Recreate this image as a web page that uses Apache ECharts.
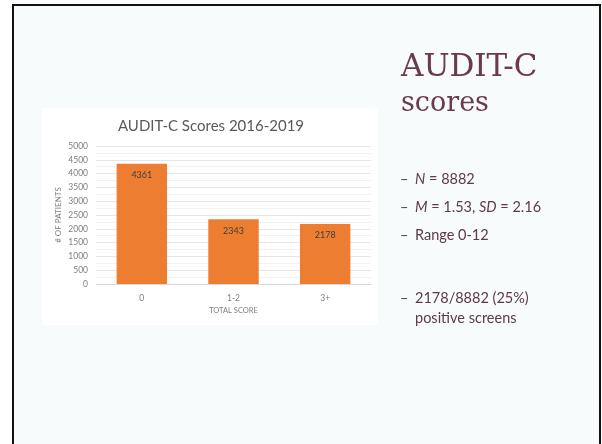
<!DOCTYPE html>
<html>
<head>
<meta charset="utf-8">
<script src="https://cdn.jsdelivr.net/npm/echarts@6/dist/echarts.min.js"></script>
<style>
  html, body { margin: 0; padding: 0; background: #ffffff; }
  #main { width: 602px; height: 444px; }
</style>
</head>
<body>
<div id="main"></div>
<script>
// chart data
const categories = ['0', '1-2', '3+']
const patients = [4361, 2343, 2178]
const yTicks = [0, 500, 1000, 1500, 2000, 2500, 3000, 3500, 4000, 4500, 5000]

// slide text
const slideTitle = ['AUDIT-C', 'scores']
const bullets = [
  '{i|N} = 8882',
  '{i|M} = 1.53, {i|SD} = 2.16',
  'Range 0-12',
]
const lastBullet = ['2178/8882 (25%)', 'positive screens']

const textColor = '#5b3a49'
const chart = echarts.init(document.getElementById('main'))

const bulletRich = {
  d: { width: 15, fontFamily: 'Lato', fontSize: 14.5, color: textColor },
  i: { fontFamily: 'Lato', fontSize: 14.5, fontStyle: 'italic', color: textColor },
}

const bulletTitles = bullets.map((b, i) => ({
  text: '{d|–}' + b,
  left: 395,
  top: 167 + i * 28,
  textStyle: {
    fontFamily: 'Lato',
    fontSize: 14.5,
    fontWeight: 'normal',
    color: textColor,
    rich: bulletRich,
  },
}))

const option = {
  backgroundColor: '#ffffff',
  animation: false,
  graphic: [
    {
      // slide background + border
      type: 'rect',
      shape: { x: 13, y: 5, width: 587, height: 450 },
      style: { fill: '#f7fbfc', stroke: '#111', lineWidth: 2 },
      z: -10,
    },
    {
      // white chart picture area
      type: 'rect',
      shape: { x: 42, y: 108, width: 336, height: 217 },
      style: { fill: '#ffffff' },
      z: -9,
    },
  ],
  title: [
    {
      text: 'AUDIT-C Scores 2016-2019',
      left: 206,
      top: 114,
      textAlign: 'center',
      textStyle: { fontFamily: 'Lato', fontSize: 15, fontWeight: 'normal', color: '#595959' },
    },
    {
      text: slideTitle[0],
      left: 396,
      top: 47,
      textStyle: { fontFamily: 'DejaVu Serif', fontSize: 31, fontWeight: 'normal', color: '#6b3a4b' },
    },
    {
      text: slideTitle[1],
      left: 396,
      top: 85,
      textStyle: { fontFamily: 'DejaVu Serif', fontSize: 27, fontWeight: 'normal', color: '#6b3a4b' },
    },
    ...bulletTitles,
    {
      text: '{d|–}' + lastBullet[0] + '\n{d|}' + lastBullet[1],
      left: 395,
      top: 283,
      textStyle: {
        fontFamily: 'Lato',
        fontSize: 14.5,
        fontWeight: 'normal',
        color: textColor,
        lineHeight: 20,
        rich: {
          d: { width: 15, fontFamily: 'Lato', fontSize: 14.5, color: textColor, lineHeight: 20 },
        },
      },
    },
  ],
  grid: {
    left: 96,
    top: 146,
    width: 275,
    height: 138,
  },
  xAxis: {
    type: 'category',
    data: categories,
    name: 'TOTAL SCORE',
    nameLocation: 'middle',
    nameGap: 23,
    nameTextStyle: { fontFamily: 'Lato', fontSize: 7.5, color: '#7f7f7f' },
    axisLine: { lineStyle: { color: '#d9d9d9' } },
    axisTick: { show: false },
    axisLabel: { fontFamily: 'Lato', fontSize: 8.5, color: '#7f7f7f', margin: 10 },
  },
  yAxis: {
    type: 'value',
    min: yTicks[0],
    max: yTicks[yTicks.length - 1],
    interval: 500,
    name: '# OF PATIENTS',
    nameLocation: 'middle',
    nameGap: 34,
    nameTextStyle: { fontFamily: 'Lato', fontSize: 8, color: '#7f7f7f' },
    axisLabel: {
      fontFamily: 'Lato',
      fontSize: 8.5,
      color: '#7f7f7f',
      margin: 8,
      formatter: (v) => String(v),
    },
    splitLine: { lineStyle: { color: '#e6e6e6', width: 1 } },
    minorTick: { show: false, splitNumber: 2 },
    minorSplitLine: { show: true, lineStyle: { color: '#f2f2f2' } },
  },
  series: [
    {
      type: 'bar',
      data: patients,
      barWidth: '55%',
      itemStyle: { color: '#ed7d31' },
      label: {
        show: true,
        position: 'insideTop',
        distance: 7,
        fontFamily: 'Lato',
        fontSize: 9,
        color: '#404040',
      },
    },
  ],
}

chart.setOption(option)
</script>
</body>
</html>
